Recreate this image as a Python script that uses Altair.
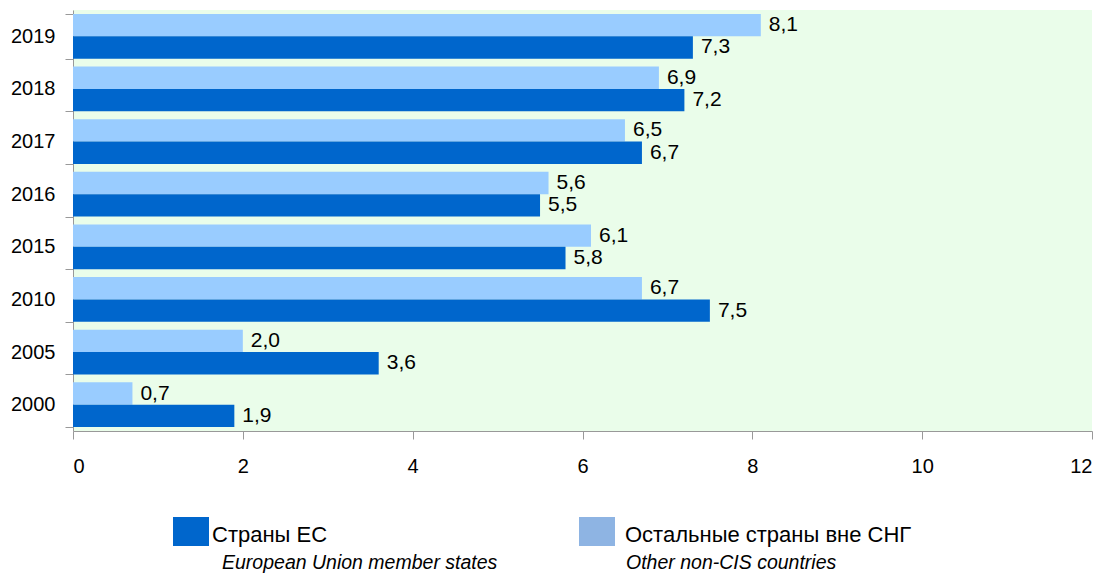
import altair as alt
import pandas as pd

years = ["2019", "2018", "2017", "2016", "2015", "2010", "2005", "2000"]
eu = [7.3, 7.2, 6.7, 5.5, 5.8, 7.5, 3.6, 1.9]
other = [8.1, 6.9, 6.5, 5.6, 6.1, 6.7, 2.0, 0.7]
series = ["Остальные страны вне СНГ", "Страны ЕС"]
series_en = ["Other non-CIS countries", "European Union member states"]
bar_colors = ["#99CCFF", "#0066CC"]
legend_colors = ["#8EB4E3", "#0066CC"]
x_ticks = [0, 2, 4, 6, 8, 10, 12]

rows = []
for i, y in enumerate(years):
    rows.append({"year": y, "series": series[0], "v": other[i]})
    rows.append({"year": y, "series": series[1], "v": eu[i]})
df = pd.DataFrame(rows)

FONT = "Liberation Sans Narrow, Arial Narrow, Liberation Sans, Arial"
W, H = 1019, 421

base = alt.Chart(df).transform_calculate(
    lab="replace(format(datum.v, '.1f'), '.', ',')"
)

y_enc = alt.Y("year:N", sort=years, title=None,
              scale=alt.Scale(paddingInner=0.15, paddingOuter=0.075),
              axis=alt.Axis(tickBand="extent", domainColor="#999999", tickColor="#999999",
                            tickSize=8, labelFontSize=20, labelPadding=10,
                            labelColor="#000000", labelFont=FONT))
yoff = alt.YOffset("series:N", sort=series, scale=alt.Scale(paddingInner=0, paddingOuter=0))
color = alt.Color("series:N", sort=series,
                  scale=alt.Scale(domain=series, range=bar_colors), legend=None)

bars = base.mark_bar().encode(
    x=alt.X("v:Q", title=None, scale=alt.Scale(domain=[0, 12], nice=False),
            axis=alt.Axis(values=x_ticks, format="d", grid=False, domainColor="#999999",
                          tickColor="#999999", tickSize=8, labelFontSize=20,
                          labelPadding=17, labelColor="#000000", labelFont=FONT)),
    y=y_enc, yOffset=yoff, color=color,
)

labels = base.mark_text(align="left", baseline="middle", dx=8, fontSize=21,
                        font=FONT, color="#000000").encode(
    x="v:Q", y=alt.Y("year:N", sort=years), yOffset=yoff, text="lab:N"
)

leg_layers = []
positions = [(100, 139, 149), (506, 552, 553)]
lc = legend_colors[::-1]
for i in range(2):
    d = alt.Data(values=[{"ru": series[::-1][i], "en": series_en[::-1][i]}])
    sx, tx, ex = positions[i]
    leg_layers.append(alt.Chart(d).mark_rect(color=lc[i]).encode(
        x=alt.value(sx), x2=alt.value(sx + 36), y=alt.value(507), y2=alt.value(536)))
    leg_layers.append(alt.Chart(d).mark_text(align="left", baseline="alphabetic",
                                             fontSize=22, font=FONT, color="#000000").encode(
        x=alt.value(tx), y=alt.value(532), text="ru:N"))
    leg_layers.append(alt.Chart(d).mark_text(align="left", baseline="alphabetic",
                                             fontSize=19.5, font=FONT, fontStyle="italic",
                                             color="#000000").encode(
        x=alt.value(ex), y=alt.value(559), text="en:N"))

chart = alt.layer(bars, labels, *leg_layers).properties(
    width=W, height=H,
    background="#FFFFFF",
    autosize=alt.AutoSizeParams(type="none"),
    padding={"left": 65, "top": 2, "right": 6, "bottom": 144},
).configure_view(fill="#EAFDEA", stroke=None)

chart.save("out.html", embed_options={"renderer": "svg", "actions": False})
